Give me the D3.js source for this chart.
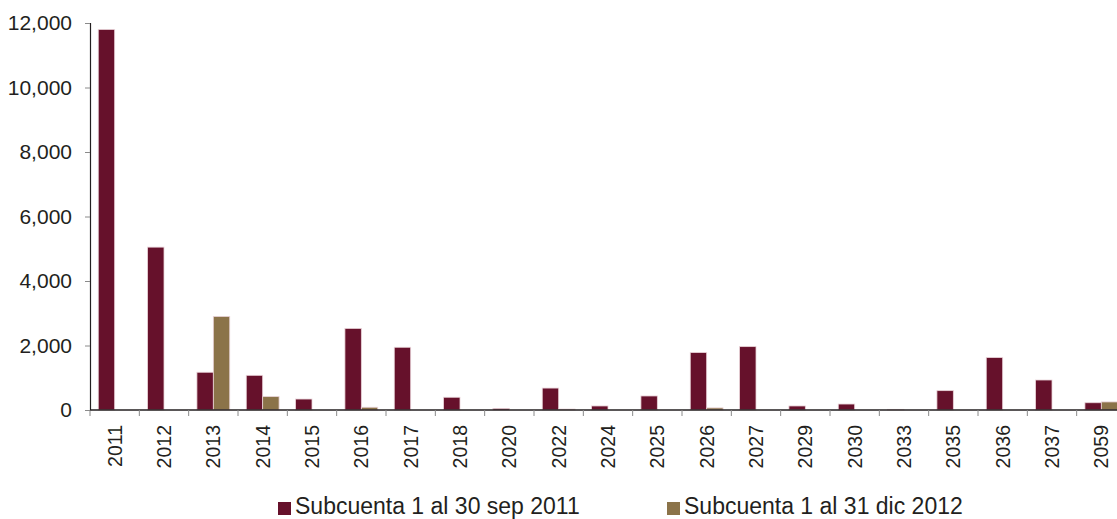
<!DOCTYPE html>
<html>
<head>
<meta charset="utf-8">
<script src="https://cdn.jsdelivr.net/npm/d3@7"></script>
<style>
  html, body { margin: 0; padding: 0; background: #fff; }
  svg { display: block; }
  text { font-family: "Liberation Sans", Arial, Helvetica, sans-serif; fill: #231f20; }
</style>
</head>
<body>
<svg id="chart" width="1117" height="519"></svg>
<script>
// Years of maturity (categories along the x axis)
const years = ["2011","2012","2013","2014","2015","2016","2017","2018","2020","2022",
               "2024","2025","2026","2027","2029","2030","2033","2035","2036","2037","2059"];

// Amounts per year for each sub-account
const sep2011 = [11800, 5050, 1170, 1075, 340, 2530, 1945, 395, 50, 680,
                 125, 435, 1780, 1965, 125, 185, 20, 600, 1625, 930, 225];
const dic2012 = [0, 0, 2900, 415, 0, 85, 0, 0, 0, 30,
                 0, 0, 65, 0, 0, 0, 0, 0, 0, 0, 250];

const seriesNames = ["Subcuenta 1 al 30 sep 2011", "Subcuenta 1 al 31 dic 2012"];
const seriesColors = ["#66112b", "#8b7349"];

const yTicks = [0, 2000, 4000, 6000, 8000, 10000, 12000];

const svg = d3.select("#chart");

const x0 = d3.scaleBand().domain(years).range([90, 1126]).paddingInner(0.335).paddingOuter(0.1675);
const x1 = d3.scaleBand().domain([0, 1]).range([0, x0.bandwidth()]);
const y = d3.scaleLinear().domain([0, 12000]).range([410, 23]);

// Bars
const series = [sep2011, dic2012];
const groups = svg.append("g").selectAll("g")
  .data(years)
  .join("g")
  .attr("transform", d => `translate(${x0(d)},0)`);

groups.selectAll("rect")
  .data((d, i) => series.map((s, k) => ({ k, v: s[i] })).filter(o => o.v > 0))
  .join("rect")
  .attr("x", d => x1(d.k))
  .attr("y", d => y(d.v))
  .attr("width", x1.bandwidth())
  .attr("height", d => y(0) - y(d.v))
  .attr("fill", d => seriesColors[d.k])
  .attr("stroke", "#e9d3d8")
  .attr("stroke-width", 0.8);

// Y axis
const yAxis = svg.append("g")
  .attr("transform", "translate(90,0)")
  .call(d3.axisLeft(y).tickValues(yTicks).tickFormat(d3.format(",")).tickSize(5).tickPadding(13));
yAxis.select(".domain").attr("stroke", "#231f20").attr("stroke-width", 1.2);
yAxis.selectAll(".tick line").attr("stroke", "#8a8a8a");
yAxis.selectAll(".tick text").style("font-size", "21px").attr("fill", "#231f20");

// X axis: ticks sit on the category boundaries
const step = x0.step();
const boundaries = d3.range(years.length + 1).map(i => 90 + i * step);
const xAxisG = svg.append("g");
xAxisG.append("line")
  .attr("x1", 90).attr("x2", 1126)
  .attr("y1", y(0)).attr("y2", y(0))
  .attr("stroke", "#231f20").attr("stroke-width", 1.6);
xAxisG.selectAll("line.tk")
  .data(boundaries)
  .join("line")
  .attr("class", "tk")
  .attr("x1", d => d).attr("x2", d => d)
  .attr("y1", y(0)).attr("y2", y(0) + 6)
  .attr("stroke", "#8a8a8a");
xAxisG.selectAll("text")
  .data(years)
  .join("text")
  .attr("transform", d => `translate(${x0(d) + x0.bandwidth() / 2 + 7},425) rotate(-90)`)
  .attr("text-anchor", "end")
  .style("font-size", "19.5px")
  .text(d => d);

// Legend
const legendX = [278, 667];
const legend = svg.append("g");
seriesNames.forEach((name, k) => {
  legend.append("rect")
    .attr("x", legendX[k]).attr("y", 502)
    .attr("width", 13).attr("height", 13)
    .attr("fill", seriesColors[k]);
  legend.append("text")
    .attr("x", legendX[k] + 17).attr("y", 514)
    .style("font-size", "23px")
    .text(name);
});
</script>
</body>
</html>
